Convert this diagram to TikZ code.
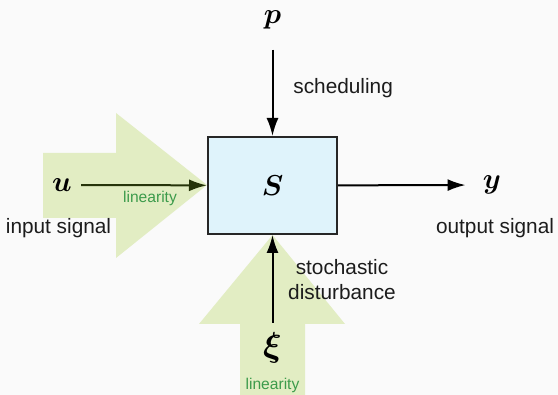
\documentclass[tikz,border=0pt]{standalone}
\usepackage{amsmath}
\usepackage{amssymb}
\usepackage{fontspec}
\setmainfont{Liberation Sans}
\usetikzlibrary{positioning,arrows.meta}
\definecolor{sysblue}{RGB}{223,243,251}
\definecolor{fatgreen}{RGB}{226,237,195}
\definecolor{lingreen}{RGB}{60,155,75}
\definecolor{oliveline}{RGB}{38,52,10}
\definecolor{bggray}{RGB}{250,250,250}
\definecolor{txtdark}{RGB}{28,28,28}
\tikzset{
  sysbox/.style={draw=black!85, fill=sysblue, line width=1pt,
                 minimum width=64.5pt, minimum height=48.5pt,
                 font=\fontsize{15}{17}\selectfont},
  sigvar/.style={font=\fontsize{14}{16}\selectfont, inner sep=2pt},
  siglbl/.style={font=\fontsize{10.4}{12.5}\selectfont, text=txtdark,
                 align=center, inner sep=0pt},
  linlbl/.style={font=\fontsize{7.8}{9}\selectfont, text=lingreen, inner sep=0pt},
  sigarr/.style={-{Latex[length=9pt,width=6pt]}, line width=1pt},
  fatarrow/.style={fill=fatgreen, draw=none},
}

\begin{document}
\begin{tikzpicture}[x=0.5pt,y=0.5pt]
    \fill[bggray] (0,0) rectangle (558,395);
    \useasboundingbox (0,0) rectangle (558,395);

    % wide arrows behind the inputs
    \fill[fatarrow] (43,242) -- (116,242) -- (116,282) -- (207,210)
        -- (116,137) -- (116,177) -- (43,177) -- cycle;
    \fill[fatarrow] (240,0) -- (240,71) -- (199,71) -- (272.5,160)
        -- (345,71) -- (305,71) -- (305,0) -- cycle;

    \node[sysbox] (sys) at (272.5,209.5) {$\boldsymbol{S}$};

    \node[sigvar] (uin) at (62,210) {$\boldsymbol{u}$};
    \node[sigvar] (pin) at (272.5,375) {$\boldsymbol{p}$};
    \node[sigvar] (yout) at (492,210) {$\boldsymbol{y}$};
    \node[sigvar, font=\fontsize{16}{18}\selectfont] (xiin) at (272.5,47.5) {$\boldsymbol{\xi}$};

    \node[siglbl, anchor=west] (schedlbl) at (293,307) {scheduling};
    \node[siglbl] (inlbl) at (58.5,167) {input signal};
    \node[siglbl] (outlbl) at (495,167) {output signal};
    \node[siglbl] (distlbl) at (342,115) {stochastic\\disturbance};
    \node[linlbl] (linu) at (150,197) {linearity};
    \node[linlbl] (linxi) at (272.5,10) {linearity};

    \draw[sigarr, draw=oliveline, shorten <=2.5pt] (uin) -- (sys);
    \draw[sigarr, shorten <=8pt] (pin) -- (sys);
    \draw[sigarr, shorten >=6.5pt] (sys) -- (yout);
    \draw[sigarr, shorten <=2.5pt] (xiin) -- (sys);
\end{tikzpicture}
\end{document}
